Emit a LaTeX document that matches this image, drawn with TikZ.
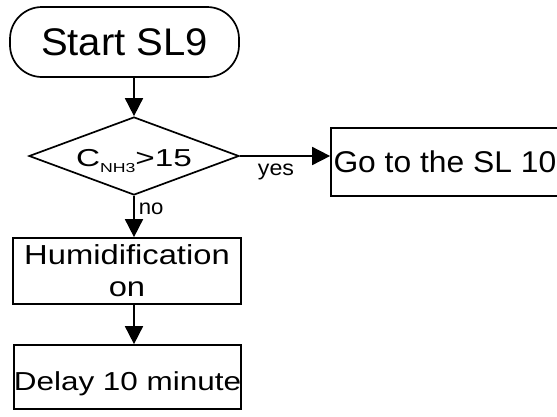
\documentclass[tikz,border=0pt]{standalone}
\usepackage{fontspec}
\usepackage{graphicx}
\setmainfont{Liberation Sans}
\usetikzlibrary{shapes.geometric,arrows.meta}

\tikzset{
  every node/.style={inner sep=0pt},
  outline/.style={draw=black, line width=1.7pt},
  terminal/.style={outline, rectangle, rounded corners=32pt},
  decision/.style={outline, diamond, aspect=2.69},
  process/.style={outline, rectangle},
  flow/.style={line width=1.7pt, -{Triangle[length=18pt,width=18pt]}},
  branch/.style={font=\fontsize{21.5}{22}\selectfont}
}

\begin{document}
\begin{tikzpicture}[x=1pt, y=-1pt]
  \useasboundingbox (0,0) rectangle (557,416);
  \fill[white] (0,0) rectangle (557,416);

  % start terminal
  \node[terminal, minimum width=229pt, minimum height=70pt,
        font=\fontsize{38.5}{40}\selectfont] (start) at (124.5,42)
    {\scalebox{1.04}[1]{Start SL9}};

  % ammonia concentration test
  \node[decision, minimum width=210pt, minimum height=78pt,
        font=\fontsize{24.5}{25}\selectfont] (dia) at (134,156)
    {\raisebox{-5.5pt}[\height][\depth]{%
      \scalebox{1.36}[1]{C\raisebox{-6pt}{\fontsize{13}{13}\selectfont NH3}>15}}\hspace{7pt}};

  % jump to the next step
  \node[process, minimum width=239pt, minimum height=68pt,
        font=\fontsize{30}{31}\selectfont] (go) at (450.5,162)
    {\makebox[234pt][l]{\raisebox{-1pt}{\scalebox{1.06}[1]{Go to the SL 10}}}};

  % humidifier switched on
  \node[process, minimum width=228pt, minimum height=66pt, align=center,
        font=\fontsize{27.5}{32}\selectfont] (hum) at (127,271)
    {\scalebox{1.19}[1]{Humidification}\\\scalebox{1.19}[1]{on}};

  % waiting step
  \node[process, minimum width=227pt, minimum height=64pt,
        font=\fontsize{26}{27}\selectfont] (del) at (127.5,377)
    {\raisebox{-7pt}[\height][\depth]{\scalebox{1.21}[1]{Delay 10 minute}}};

  % connectors
  \draw[flow] (start.south -| dia.north) -- (dia.north);
  \draw[flow] (dia.east) --
    node[branch, pos=0.4, anchor=north, yshift=-7pt] (yeslbl) {\scalebox{1.08}[1]{yes}}
    (dia.east -| go.west);
  \draw[flow] (dia.south) --
    node[branch, pos=0.16, anchor=north west, xshift=4pt] (nolbl) {\scalebox{1.03}[1]{no}}
    (dia.south |- hum.north);
  \draw[flow] (dia.south |- hum.south) -- (dia.south |- del.north);
\end{tikzpicture}
\end{document}
